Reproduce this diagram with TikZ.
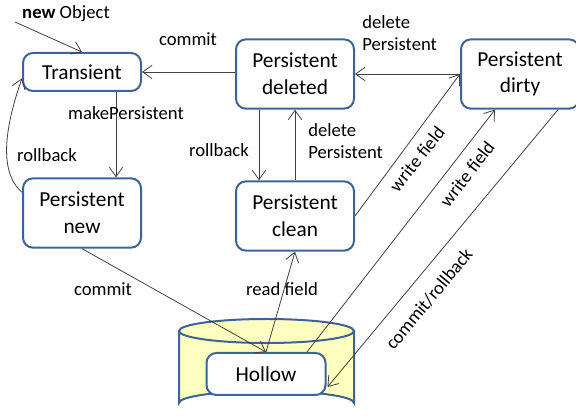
\documentclass[tikz,border=0pt]{standalone}
\usepackage{fontspec}
\setmainfont{Carlito}
\usetikzlibrary{arrows.meta,calc}

\definecolor{boxblue}{RGB}{60,100,148}
\definecolor{dbyellow}{RGB}{255,255,192}
\definecolor{lineg}{RGB}{64,64,64}

\begin{document}
\begin{tikzpicture}[x=0.75pt,y=0.75pt,yscale=-1,xscale=1,
	state/.style={draw=boxblue, line width=1.5pt, fill=white, rounded corners=7.5pt, align=center, minimum width=88.5pt, minimum height=52pt, inner sep=0pt, font=\fontsize{16}{20}\selectfont},
	lbl/.style={font=\fontsize{14}{17}\selectfont, inner sep=0.75pt, align=left},
	trans/.style={draw=lineg, line width=0.6pt, -{Straight Barb[length=7pt,width=10pt]}}]
	\useasboundingbox (0,0) rectangle (576,416);

	%Shape: Cylinder (store)
	\draw [draw=boxblue, line width=1.5pt, fill=dbyellow] (179,331) -- (179,403) arc [start angle=180, end angle=360, x radius=87.5, y radius=12] -- (354,331) -- cycle ;
	\draw [draw=boxblue, line width=1.5pt, fill=dbyellow] (266.5,331) ellipse [x radius=87.5, y radius=12] ;

	%States
	\node [state, minimum height=28.5pt] (trans) at (82,72) {Transient};
	\node [state] (pdel) at (295,74) {Persistent\\deleted};
	\node [state] (pdirty) at (520,74) {Persistent\\dirty};
	\node [state] (pnew) at (82,213) {Persistent\\new};
	\node [state] (pclean) at (295,216) {Persistent\\clean};
	\node [state, minimum width=89.25pt, minimum height=31.5pt] (hollow) at (266,374) {Hollow};

	%Transitions
	\coordinate (newobj) at (15,22);
	\draw [trans] (newobj) -- (trans.north);
	\draw [trans] (pdel.west |- trans.east) -- (trans.east);
	\draw [trans] (pdirty.west) -- (pdel.east);
	\draw [trans] ($(trans.south)+(34,0)$) -- ($(pnew.north)+(34,0)$);
	\draw [trans] (pnew.161) .. controls +(-21,-18) and +(-20,57) .. (trans.186);
	\draw [trans] ($(pdel.south)+(-36,0)$) -- ($(pclean.north)+(-36,0)$);
	\draw [trans] (pclean.north) -- (pdel.south);
	\draw [trans] (pclean.east) -- (pdirty.west);
	\draw [trans] (pnew.south) -- (hollow.north);
	\draw [trans] (hollow.north) -- (pclean.south);
	\draw [trans] ($(hollow.north)+(41,0)$) -- ($(pdirty.south)+(-25,0)$);
	\draw [trans] ($(pdirty.south)+(38,0)$) -- ($(hollow.east)+(1,13)$);

	% Text Node
	\node [lbl] (lnew) at (66,14) {\textbf{new} Object};
	% Text Node
	\node [lbl] (lcommit1) at (188,39) {commit};
	% Text Node
	\node [lbl] (lmake) at (126,113) {makePersistent};
	% Text Node
	\node [lbl] (lroll1) at (47,155) {rollback};
	% Text Node
	\node [lbl] (lroll2) at (219,150) {rollback};
	% Text Node
	\node [lbl, anchor=west] (ldel1) at (361,33) {delete\\Persistent};
	% Text Node
	\node [lbl, anchor=west] (ldel2) at (307,141) {delete\\Persistent};
	% Text Node
	\node [lbl] (lcommit2) at (103,289) {commit};
	% Text Node
	\node [lbl] (lread) at (282,289) {read field};
	% Text Node
	\node [lbl, rotate=51.7] (lwrite1) at (417,159) {write field};
	% Text Node
	\node [lbl, rotate=52.5] (lwrite2) at (467,174) {write field};
	% Text Node
	\node [lbl, rotate=50.4] (lcr) at (429,299) {commit/rollback};

\end{tikzpicture}
\end{document}
